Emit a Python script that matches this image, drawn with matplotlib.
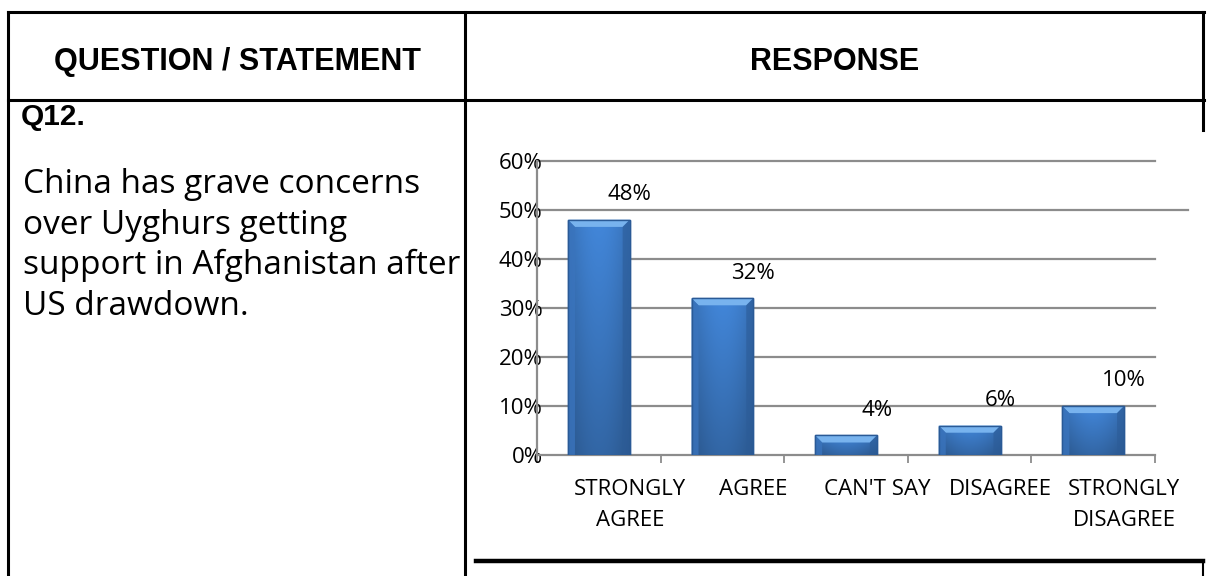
import numpy as np
import matplotlib
matplotlib.use('Agg')
from matplotlib import pyplot as plt
from matplotlib.lines import Line2D
from matplotlib.patches import Polygon, Rectangle

# survey answers for Q12
categories = ['STRONGLY\nAGREE', 'AGREE', "CAN'T SAY", 'DISAGREE', 'STRONGLY\nDISAGREE']
responses = [48, 32, 4, 6, 10]
y_ticks = [0, 10, 20, 30, 40, 50, 60]

header_left = 'QUESTION / STATEMENT'
header_right = 'RESPONSE'
question_no = 'Q12.'
statement = ['China has grave concerns',
             'over Uyghurs getting',
             'support in Afghanistan after',
             'US drawdown.']

W, H = 1210, 576
fig = plt.figure(figsize=(W / 100, H / 100), dpi=100)

# page layer in pixel coordinates for the table around the chart
page = fig.add_axes([0, 0, 1, 1])
page.set_xlim(0, W)
page.set_ylim(H, 0)
page.axis('off')


def rule(x0, y0, x1, y1, lw=2.2):
    page.add_line(Line2D([x0, x1], [y0, y1], color='black', lw=lw,
                         solid_capstyle='projecting'))


rule(8, 12, 1204, 12)
rule(8, 100, 1204, 100)
rule(8, 12, 8, 576)
rule(465, 12, 465, 576)
rule(1203, 12, 1203, 130)
rule(476, 561, 1203, 561, lw=3.2)
rule(1203, 561, 1203, 576, lw=1.5)

page.text(237, 62, header_left, ha='center', va='center', fontsize=22,
          fontweight='bold', family='Liberation Sans')
page.text(835, 62, header_right, ha='center', va='center', fontsize=22,
          fontweight='bold', family='Liberation Sans')
page.text(21, 117, question_no, ha='left', va='center', fontsize=21.5,
          fontweight='bold', family='Liberation Sans')
for k, line in enumerate(statement):
    page.text(23, 193 + k * 40.7, line, ha='left', va='baseline',
              fontsize=24, family='Open Sans')

# bar chart
ax = fig.add_axes([537 / W, 1 - 455 / H, 618 / W, 294 / H])
x = np.arange(len(categories))
bars = ax.bar(x, responses, width=0.5, color='#3d7cc9',
              edgecolor='#2a5d9c', linewidth=1.0, zorder=3)

# shaded body, bevelled top edge and outline on each bar
n = 64
across = 0.84 + 0.16 * np.sin(np.pi * np.linspace(0, 1, n))
down = np.linspace(1.05, 0.80, n)
base = np.array([0x3f, 0x80, 0xcf]) / 255
img = np.clip(down[:, None, None] * across[None, :, None] * base, 0, 1)

dx, dy = 0.057, 1.45
for b, v in zip(bars, responses):
    x0, x1 = b.get_x(), b.get_x() + b.get_width()
    im = ax.imshow(img, extent=[x0, x1, 0, v], aspect='auto', zorder=3.5,
                   origin='upper', interpolation='bilinear')
    im.set_clip_path(b)
    ax.add_patch(Polygon([[x0, v], [x1, v], [x1 - dx, v - dy], [x0 + dx, v - dy]],
                         closed=True, facecolor='#78b3ee', edgecolor='none',
                         zorder=4))
    ax.add_patch(Polygon([[x0, v], [x0 + dx, v - dy], [x0 + dx, 0], [x0, 0]],
                         closed=True, facecolor='#3a74bd', edgecolor='none',
                         alpha=0.8, zorder=4))
    ax.add_patch(Polygon([[x1, v], [x1 - dx, v - dy], [x1 - dx, 0], [x1, 0]],
                         closed=True, facecolor='#2c5c98', edgecolor='none',
                         alpha=0.6, zorder=4))
    ax.add_patch(Rectangle((x0, 0), x1 - x0, v, fill=False,
                           edgecolor='#2a5a96', linewidth=1.0, zorder=5))
    ax.annotate(f'{v}%', xy=(x1, v), xytext=(0, 18), textcoords='offset points',
                ha='center', va='center', fontsize=16, family='Open Sans')

ax.set_xlim(-0.5, len(categories) - 0.5)
ax.set_ylim(0, 60)
ax.set_yticks(y_ticks)
ax.set_yticklabels([f'{t}%' for t in y_ticks], family='Open Sans', fontsize=16)
# category names sit under the right edge of each bar
ax.set_xticks(x + 0.25)
ax.set_xticklabels(categories, family='Open Sans', fontsize=16, linespacing=1.65)
ax.set_xticks(np.arange(len(categories) + 1) - 0.5, minor=True)
ax.tick_params(axis='y', length=0, pad=-4)
ax.tick_params(axis='x', which='major', length=0, pad=17)
ax.tick_params(axis='x', which='minor', length=6, width=1.3, color='#8c8c8c')

# gridlines; the 50% one runs a little past the plot
grid_reach = {50: 1.053}
for t in y_ticks[1:]:
    ax.axhline(t, xmin=0, xmax=grid_reach.get(t, 1.0), color='#8c8c8c',
               lw=1.6, zorder=0, clip_on=False)
for s in ['top', 'right']:
    ax.spines[s].set_visible(False)
for s in ['left', 'bottom']:
    ax.spines[s].set_color('#8c8c8c')
    ax.spines[s].set_linewidth(1.6)
ax.set_facecolor('none')

fig.savefig('out.png', dpi=100, facecolor='white')
